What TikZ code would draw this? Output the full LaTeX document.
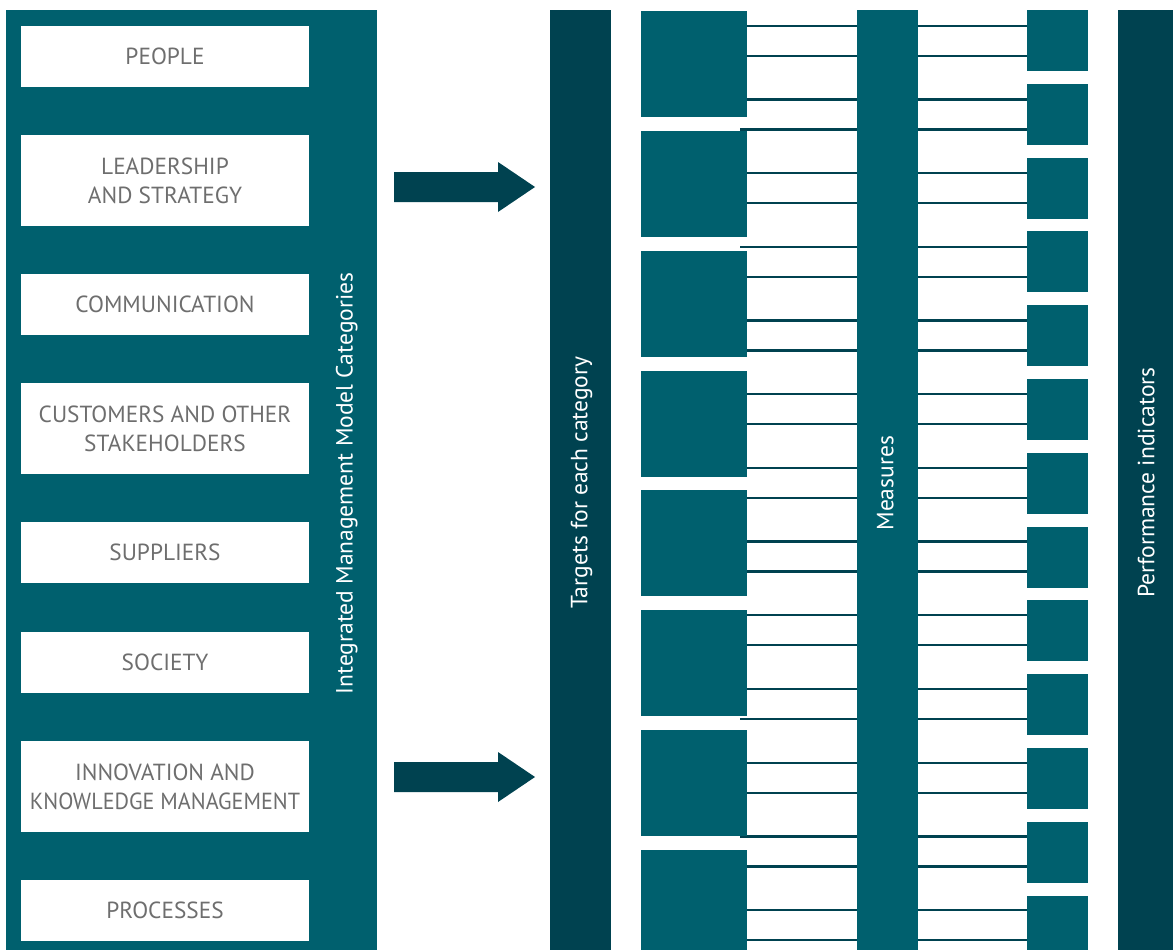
\documentclass[tikz,border=0pt]{standalone}
\usepackage{fontspec}
\setmainfont{PT Sans}
\usetikzlibrary{backgrounds}
\definecolor{teal1}{RGB}{0,96,110}
\definecolor{dark1}{RGB}{0,66,80}
\definecolor{txtgray}{RGB}{110,110,110}
\begin{document}
\begin{tikzpicture}[x=1pt,y=-1pt,
  catbox/.style={fill=white, inner sep=0pt, outer sep=0pt, minimum width=288pt, text=txtgray, align=center, font=\fontsize{23.3}{29}\selectfont},
  block/.style={fill=teal1, inner sep=0pt, outer sep=0pt, anchor=north west},
  darkcol/.style={fill=dark1, inner sep=0pt, outer sep=0pt, anchor=north west},
  vlabel/.style={text=white, rotate=90, anchor=base, inner sep=0pt, font=\fontsize{23.5}{28}\selectfont},
  link/.style={draw=dark1, line width=2.3pt},
  bigarrow/.style={fill=dark1}]
\useasboundingbox (0,0) rectangle (1173,950);

% left panel and categories
\node[block, minimum width=371pt, minimum height=940pt] (panel) at (6,10) {};
\node[catbox, minimum height=61pt] (people) at (165,56.5) {PEOPLE};
\node[catbox, minimum height=91pt] (lead) at (165,180.5) {LEADERSHIP\\AND STRATEGY};
\node[catbox, minimum height=61pt] (comm) at (165,304.5) {COMMUNICATION};
\node[catbox, minimum height=91pt] (cust) at (165,428.5) {CUSTOMERS AND OTHER\\STAKEHOLDERS};
\node[catbox, minimum height=61pt] (supp) at (165,552.5) {SUPPLIERS};
\node[catbox, minimum height=61pt] (soc) at (165,662.5) {SOCIETY};
\node[catbox, minimum height=91pt] (innov) at (165,786.5) {INNOVATION AND\\\scalebox{0.95}[1]{KNOWLEDGE MANAGEMENT}};
\node[catbox, minimum height=61pt] (proc) at (165,910.5) {PROCESSES};
\node[vlabel] (lpanel) at (352.7,483.5) {Integrated Management Model Categories};

% columns
\node[darkcol, minimum width=61pt, minimum height=940pt] (targets) at (550,10) {};
\node[block, minimum width=61pt, minimum height=940pt] (measures) at (857,10) {};
\node[darkcol, minimum width=55pt, minimum height=940pt] (perf) at (1118,10) {};
\node[vlabel] (ltargets) at (587.3,482.6) {Targets for each category};
\node[vlabel] (lmeasures) at (893.3,483.3) {Measures};
\node[vlabel] (lperf) at (1154.3,482.7) {Performance indicators};

% arrows
\fill[bigarrow] (394,172) -- (498,172) -- (498,162) -- (535,187) -- (498,212) -- (498,202) -- (394,202) -- cycle;
\fill[bigarrow] (394,762) -- (498,762) -- (498,752) -- (535,777) -- (498,802) -- (498,792) -- (394,792) -- cycle;

% target squares
\foreach \k in {0,...,6} {
  \node[block, minimum width=106pt, minimum height=106pt] (ts\k) at (641,{11+119.86*\k}) {};
}
\node[block, minimum width=106pt, minimum height=100pt] (ts7) at (641,850) {};

% performance squares
\foreach \k in {0,...,11} {
  \node[block, minimum width=61pt, minimum height=61pt] (ps\k) at (1027,{10+73.8*\k}) {};
}
\node[block, minimum width=61pt, minimum height=54.4pt] (ps12) at (1027,895.6) {};

% links
\begin{scope}[on background layer]
\foreach \k in {0,...,12} {
  \foreach \d in {0,30} {
    \coordinate (l\k-\d) at (740,{25.7+73.7*\k+\d});
    \draw[link] (l\k-\d) -- (l\k-\d -| ps\k.west);
  }
}
\end{scope}
\end{tikzpicture}
\end{document}
